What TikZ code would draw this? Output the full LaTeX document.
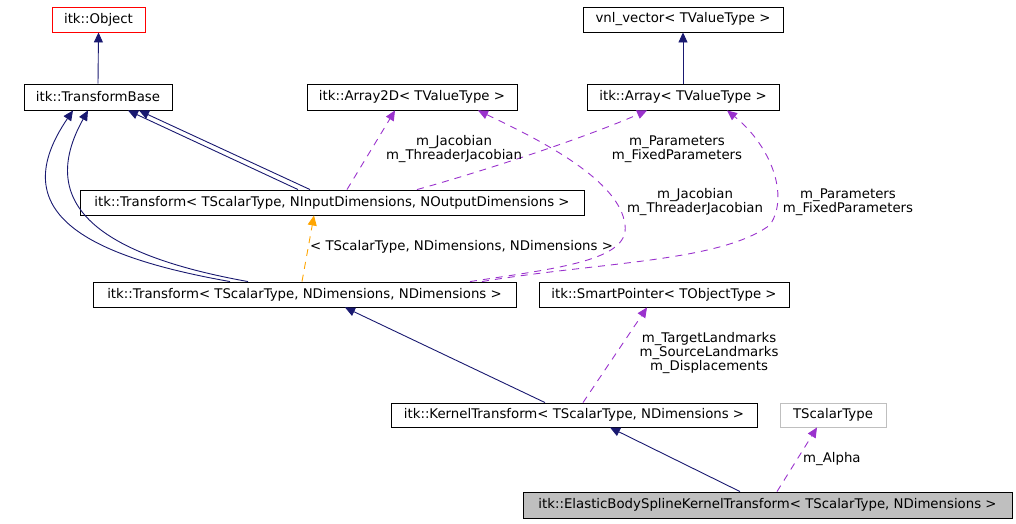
\documentclass[tikz,border=0pt]{standalone}
\usepackage{fontspec}
\setmainfont{DejaVu Sans}
\usepackage{xcolor}
\usetikzlibrary{arrows.meta}
\definecolor{navyedge}{HTML}{191970}
\definecolor{orchid}{HTML}{9A32CD}
\definecolor{tmplorange}{HTML}{FFA500}
\definecolor{boxgray}{HTML}{BFBFBF}

\begin{document}
\begin{tikzpicture}[
    x=1pt, y=-1pt,
    font=\fontsize{13.3}{14}\selectfont,
    klass/.style={draw=black, line width=0.9pt, inner sep=0pt,
                  minimum height=25pt, anchor=center},
    extends/.style={-{Triangle[length=10pt,width=9pt]}, draw=navyedge,
                    fill=none, line width=0.9pt},
    member/.style={-{Triangle[length=10pt,width=9pt]}, draw=orchid,
                   line width=0.9pt, dash pattern=on 7pt off 6pt},
    instance/.style={-{Triangle[length=10pt,width=9pt]}, draw=tmplorange,
                     line width=0.9pt, dash pattern=on 7pt off 6pt},
    lbl/.style={align=center, inner sep=0pt}]
  \useasboundingbox (0,0) rectangle (1016,523);
  \node[klass, draw=red, minimum width=93pt] (obj) at (98.5,19.5) {itk::Object};
  \node[klass, minimum width=148pt, minimum height=26pt] (tb) at (98,97) {itk::TransformBase};
  \node[klass, minimum width=210pt, minimum height=26pt] (a2d) at (412,97) {itk::Array2D< TValueType >};
  \node[klass, minimum width=200pt] (vnl) at (683,19.5) {vnl\_vector< TValueType >};
  \node[klass, minimum width=192pt, minimum height=26pt] (arr) at (683,97) {itk::Array< TValueType >};
  \node[klass, minimum width=504pt] (tin) at (332,202.5) {itk::Transform< TScalarType, NInputDimensions, NOutputDimensions >};
  \node[klass, minimum width=423pt] (tnd) at (304.5,294.5) {itk::Transform< TScalarType, NDimensions, NDimensions >};
  \node[klass, minimum width=250pt] (sp) at (664,294.5) {itk::SmartPointer< TObjectType >};
  \node[klass, minimum width=366pt, minimum height=24pt] (kt) at (574,415) {itk::KernelTransform< TScalarType, NDimensions >};
  \node[klass, draw=boxgray, minimum width=106pt, minimum height=24pt] (ts) at (833,415) {TScalarType};
  \node[klass, fill=boxgray, minimum width=489pt, minimum height=26pt] (ebs) at (767.5,505) {itk::ElasticBodySplineKernelTransform< TScalarType, NDimensions >};

  \draw[extends] (tb.north) -- (obj.south);
  \draw[extends] (arr.north) -- (vnl.south);
  \draw[extends] ([xshift=-34pt]tin.north) -- ([xshift=30pt]tb.south);
  \draw[extends] ([xshift=-22pt]tin.north) -- ([xshift=41pt]tb.south);
  \draw[extends] ([xshift=-74.5pt]tnd.north) .. controls (80,255) and (5,210) .. ([xshift=-25pt]tb.south);
  \draw[extends] ([xshift=-56.5pt]tnd.north) .. controls (100,255) and (35,205) .. ([xshift=-10pt]tb.south);
  \draw[member] ([xshift=15pt]tin.north) -- ([xshift=-17pt]a2d.south);
  \draw[member] ([xshift=85pt]tin.north) .. controls (470,175) and (580,140) .. ([xshift=-36pt]arr.south);
  \draw[member] ([xshift=165.5pt]tnd.north) .. controls (560,268) and (630,260) .. (625,225)
    .. controls (620,180) and (540,140) .. ([xshift=66pt]a2d.south);
  \draw[member] ([xshift=177.5pt]tnd.north) .. controls (600,262) and (720,262) .. (770,225)
    .. controls (790,195) and (770,145) .. ([xshift=44pt]arr.south);
  \draw[instance] ([xshift=-2.5pt]tnd.north) -- ([xshift=-18pt]tin.south);
  \draw[extends] ([xshift=-29pt]kt.north) -- ([xshift=40.5pt]tnd.south);
  \draw[member] ([xshift=9pt]kt.north) -- ([xshift=-17pt]sp.south);
  \draw[extends] ([xshift=-27.5pt]ebs.north) -- ([xshift=36pt]kt.south);
  \draw[member] ([xshift=9.5pt]ebs.north) -- ([xshift=-16pt]ts.south);

  \node[lbl] (jac1) at (454,149) {m\_Jacobian\\m\_ThreaderJacobian};
  \node[lbl] (par1) at (677,149) {m\_Parameters\\m\_FixedParameters};
  \node[lbl] (jac2) at (695,202) {m\_Jacobian\\m\_ThreaderJacobian};
  \node[lbl] (par2) at (848,202) {m\_Parameters\\m\_FixedParameters};
  \node[lbl, anchor=west] (targs) at (310,247) {< TScalarType, NDimensions, NDimensions >};
  \node[lbl] (lmk) at (709,353) {m\_TargetLandmarks\\m\_SourceLandmarks\\m\_Displacements};
  \node[lbl, anchor=west] (alpha) at (803,459) {m\_Alpha};
\end{tikzpicture}
\end{document}
